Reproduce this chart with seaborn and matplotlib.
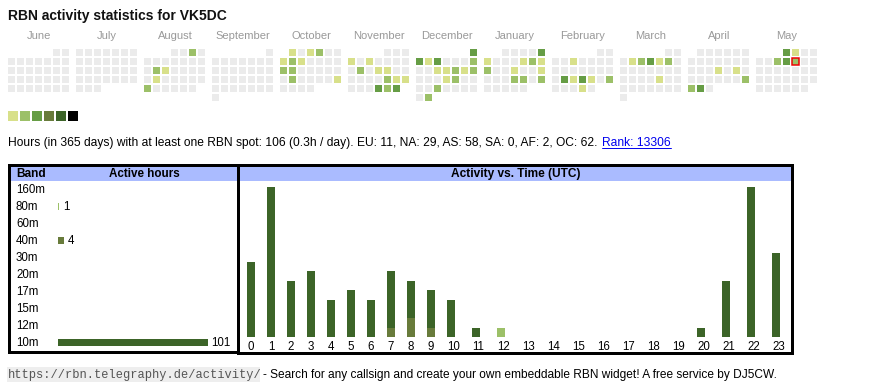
import numpy as np
import pandas as pd
import matplotlib
matplotlib.use("Agg")
import matplotlib.pyplot as plt
import seaborn as sns
from matplotlib.colors import ListedColormap
from matplotlib.patches import Rectangle
from matplotlib import font_manager

# ---------------- data ----------------
title = "RBN activity statistics for VK5DC"
month_names = ["June", "July", "August", "September", "October", "November",
               "December", "January", "February", "March", "April", "May"]
month_starts = ["2024-06", "2024-07", "2024-08", "2024-09", "2024-10", "2024-11",
                "2024-12", "2025-01", "2025-02", "2025-03", "2025-04", "2025-05"]
active_dates = [
    "2024-08-03", "2024-08-13", "2024-08-14", "2024-08-20", "2024-08-26",
    "2024-10-01", "2024-10-03", "2024-10-04", "2024-10-07", "2024-10-08", "2024-10-09",
    "2024-10-14", "2024-10-15", "2024-10-22", "2024-10-27",
    "2024-11-04", "2024-11-06", "2024-11-12", "2024-11-14", "2024-11-15", "2024-11-22",
    "2024-11-23", "2024-11-24", "2024-11-28", "2024-11-29", "2024-11-30",
    "2024-12-01", "2024-12-02", "2024-12-03", "2024-12-04", "2024-12-08", "2024-12-11",
    "2024-12-12", "2024-12-13", "2024-12-14", "2024-12-15", "2024-12-19", "2024-12-20",
    "2024-12-25", "2024-12-31",
    "2025-01-05", "2025-01-06", "2025-01-10", "2025-01-11", "2025-01-12", "2025-01-13",
    "2025-01-16", "2025-01-19", "2025-01-23", "2025-01-24", "2025-01-26",
    "2025-02-05", "2025-02-18", "2025-02-19", "2025-02-20", "2025-02-21", "2025-02-23",
    "2025-02-27",
    "2025-03-04", "2025-03-05", "2025-03-06", "2025-03-07", "2025-03-08", "2025-03-21",
    "2025-04-17", "2025-04-19", "2025-04-27", "2025-04-28", "2025-04-29",
    "2025-05-01", "2025-05-02", "2025-05-07", "2025-05-08", "2025-05-09",
]
active_levels = [
    2, 2, 1, 1, 2,
    1, 1, 2, 1, 2, 1,
    2, 2, 2, 1,
    1, 1, 2, 1, 1, 2,
    1, 1, 3, 2, 3,
    3, 3, 1, 3, 2, 1,
    1, 2, 1, 2, 1, 2,
    2, 2,
    3, 1, 1, 2, 1, 2,
    1, 1, 2, 2, 2,
    1, 3, 1, 3, 1, 2,
    1,
    1, 2, 3, 1, 2, 1,
    1, 1, 2, 2, 3,
    3, 1, 2, 3, 2,
]
today = "2025-05-09"
level_colors = ["#ebebeb", "#d8e08a", "#9cc068", "#669d45", "#687b3b", "#3c6428", "#000000"]

bands = ["160m", "80m", "60m", "40m", "30m", "20m", "17m", "15m", "12m", "10m"]
band_hours = [0, 1, 0, 4, 0, 0, 0, 0, 0, 101]
band_color = {"160m": "#9cc068", "80m": "#9cc068", "60m": "#9cc068", "40m": "#687b3b",
              "30m": "#3c6428", "20m": "#3c6428", "17m": "#3c6428", "15m": "#3c6428",
              "12m": "#3c6428", "10m": "#3c6428"}

hours = list(range(24))
hours_10m = [8, 16, 6, 7, 4, 5, 4, 6, 4, 4, 4, 1, 0, 0, 0, 0, 0, 0, 0, 0, 1, 6, 16, 9]
hours_40m = [0, 0, 0, 0, 0, 0, 0, 1, 2, 1, 0, 0, 0, 0, 0, 0, 0, 0, 0, 0, 0, 0, 0, 0]
hours_80m = [0, 0, 0, 0, 0, 0, 0, 0, 0, 0, 0, 0, 1, 0, 0, 0, 0, 0, 0, 0, 0, 0, 0, 0]

stats_text = ("Hours (in 365 days) with at least one RBN spot: 106 (0.3h / day). "
              "EU: 11, NA: 29, AS: 58, SA: 0, AF: 2, OC: 62.")
rank_text = "Rank: 13306"
footer_url = "https://rbn.telegraphy.de/activity/"
footer_text = "- Search for any callsign and create your own embeddable RBN widget! A free service by DJ5CW."

# ---------------- style ----------------
sns.set_theme(style="white")
plt.rcParams["font.family"] = ["Liberation Sans", "DejaVu Sans"]

narrow = "Liberation Sans"
try:
    font_manager.findfont("Liberation Sans Narrow", fallback_to_default=False)
    narrow = "Liberation Sans Narrow"
except Exception:
    pass

W, H = 870, 390
fig = plt.figure(figsize=(W / 100, H / 100), dpi=100)
fig.patch.set_facecolor("white")
renderer = fig.canvas.get_renderer()

bg = fig.add_axes([0, 0, 1, 1])
bg.set_xlim(0, W)
bg.set_ylim(H, 0)
bg.axis("off")


def px_axes(x0, y0, x1, y1):
    a = fig.add_axes([x0 / W, 1 - y1 / H, (x1 - x0) / W, (y1 - y0) / H])
    a.patch.set_alpha(0)
    return a


def fit_size(s, target_w, fs0=8, **kw):
    p = bg.text(0, 0, s, fontsize=fs0, **kw)
    w = p.get_window_extent(renderer).width
    p.remove()
    return fs0 * target_w / w


def fit_text(x, y, s, target_w, fs0=9, **kw):
    t = bg.text(x, y, s, fontsize=fs0, **kw)
    w = t.get_window_extent(renderer).width
    t.set_fontsize(fs0 * target_w / w)
    return t


PT = 72 / 100  # points per pixel

# ---------------- title ----------------
fit_text(8, 20, title, 220, fs0=11, fontweight="bold", va="baseline", ha="left", color="#111111")

# ---------------- calendar ----------------
cmap = ListedColormap(level_colors)
level_by_date = dict(zip(pd.to_datetime(active_dates), active_levels))
today_ts = pd.Timestamp(today)

fs_month = fit_size("September", 55)

for i, (mname, mstart) in enumerate(zip(month_names, month_starts)):
    start = pd.Timestamp(mstart + "-01")
    days = pd.date_range(start, start + pd.offsets.MonthEnd(0))
    grid = np.full((6, 7), np.nan)
    off = start.weekday()
    for d in days:
        grid[(d.day - 1 + off) // 7, d.weekday()] = level_by_date.get(d, 0)
    x0 = 8 + 68 * i
    ax = px_axes(x0 - 1, 48, x0 - 1 + 63, 48 + 54)
    sns.heatmap(grid, ax=ax, cmap=cmap, vmin=-0.5, vmax=6.5, cbar=False,
                linewidths=2 * PT, linecolor="white",
                xticklabels=False, yticklabels=False)
    ax.axis("off")
    if start.month == today_ts.month and start.year == today_ts.year:
        r = (today_ts.day - 1 + off) // 7
        c = today_ts.weekday()
        ax.add_patch(Rectangle((c + 1 / 9, r + 1 / 9), 7 / 9, 7 / 9, fill=False,
                               ec="#ee0000", lw=1.5 * PT, zorder=5))
    bg.text(x0 + 31, 39, mname, fontsize=fs_month, color="#999999",
            ha="center", va="baseline")

# legend squares
axl = px_axes(7, 110, 7 + 72, 122)
sns.heatmap(np.arange(1, 7).reshape(1, 6), ax=axl, cmap=cmap, vmin=-0.5, vmax=6.5,
            cbar=False, linewidths=2 * PT, linecolor="white",
            xticklabels=False, yticklabels=False)
axl.axis("off")

# ---------------- stats line ----------------
t = fit_text(8, 146, stats_text, 588, fs0=8, ha="left", va="baseline",
             color="#000000", family=[narrow, "DejaVu Sans"])
fs_stats = t.get_fontsize()
ext = t.get_window_extent(renderer)
rx = ext.x1 + 4.5
tr = bg.text(rx, 146, rank_text, fontsize=fs_stats, ha="left", va="baseline",
             color="#0000ee", family=[narrow, "DejaVu Sans"])
rext = tr.get_window_extent(renderer)
bg.plot([rx, rext.x1], [147.5, 147.5], color="#0000ee", lw=0.8 * PT * 1.2)

# ---------------- panels ----------------
header_blue = "#aabbff"
bg.add_patch(Rectangle((10, 165), 227, 16, color=header_blue, lw=0))
bg.add_patch(Rectangle((239, 165), 553, 16, color=header_blue, lw=0))
bg.add_patch(Rectangle((9.5, 164.5), 228.5, 187.5, fill=False, ec="black", lw=3 * PT))
bg.add_patch(Rectangle((238.5, 164.5), 554, 188.5, fill=False, ec="black", lw=3 * PT))

hdr_kw = dict(fontweight="bold", va="baseline", color="#000000")
fit_text(16, 177, "Band", 30, fs0=8, ha="left", **hdr_kw)
fit_text(144.5, 177, "Active hours", 71, fs0=8, ha="center", **hdr_kw)
fit_text(515.5, 177, "Activity vs. Time (UTC)", 129, fs0=8, ha="center", **hdr_kw)

fs_lab = fit_size("160m", 29)

# band bars
px_per_hour = 150 / 101
axb = px_axes(58, 180.5, 236, 350.5)
sns.barplot(x=band_hours, y=bands, hue=bands, palette=band_color, orient="h",
            width=7 / 17, saturation=1, legend=False, ax=axb, linewidth=0)
axb.set_xlim(0, 178 / px_per_hour)
axb.set_ylim(len(bands) - 0.5, -0.5)
axb.axis("off")
for k, (b, v) in enumerate(zip(bands, band_hours)):
    bg.text(16, 193 + 17 * k, b, fontsize=fs_lab, ha="left", va="baseline", color="#000000")
    if v > 0:
        axb.text(v + 3.5 / px_per_hour, k, str(v), fontsize=fs_lab, ha="left",
                 va="center_baseline", color="#000000")

# time bars
widths = np.array([15 + 5 * len(str(h)) for h in hours], dtype=float)
lefts = 241 + np.concatenate([[0], np.cumsum(widths)[:-1]])
bar_x = lefts + 10
lab_x = lefts + widths / 2

axr = px_axes(241, 187, 793, 337)
axr.bar(bar_x, hours_40m, width=8, color=level_colors[4], lw=0)
axr.bar(bar_x, hours_10m, width=8, bottom=hours_40m, color=level_colors[5], lw=0)
axr.bar(bar_x, hours_80m, width=8, bottom=np.add(hours_40m, hours_10m),
        color=level_colors[2], lw=0)
axr.set_xlim(241, 793)
axr.set_ylim(0, 16)
axr.axis("off")
for h, lx in zip(hours, lab_x):
    bg.text(lx, 350, str(h), fontsize=fs_lab, ha="center", va="baseline", color="#000000")

# ---------------- footer ----------------
bg.add_patch(Rectangle((7, 367), 253, 15, color="#eeeeee", lw=0))
fit_text(8, 378, footer_url, 250, fs0=8, ha="left", va="baseline", color="#555555",
         family=["Liberation Mono", "DejaVu Sans Mono"])
fit_text(263, 378, footer_text, 520, fs0=8, ha="left", va="baseline", color="#000000",
         family=[narrow, "DejaVu Sans"])

fig.savefig("out.png", dpi=100, facecolor="white")
